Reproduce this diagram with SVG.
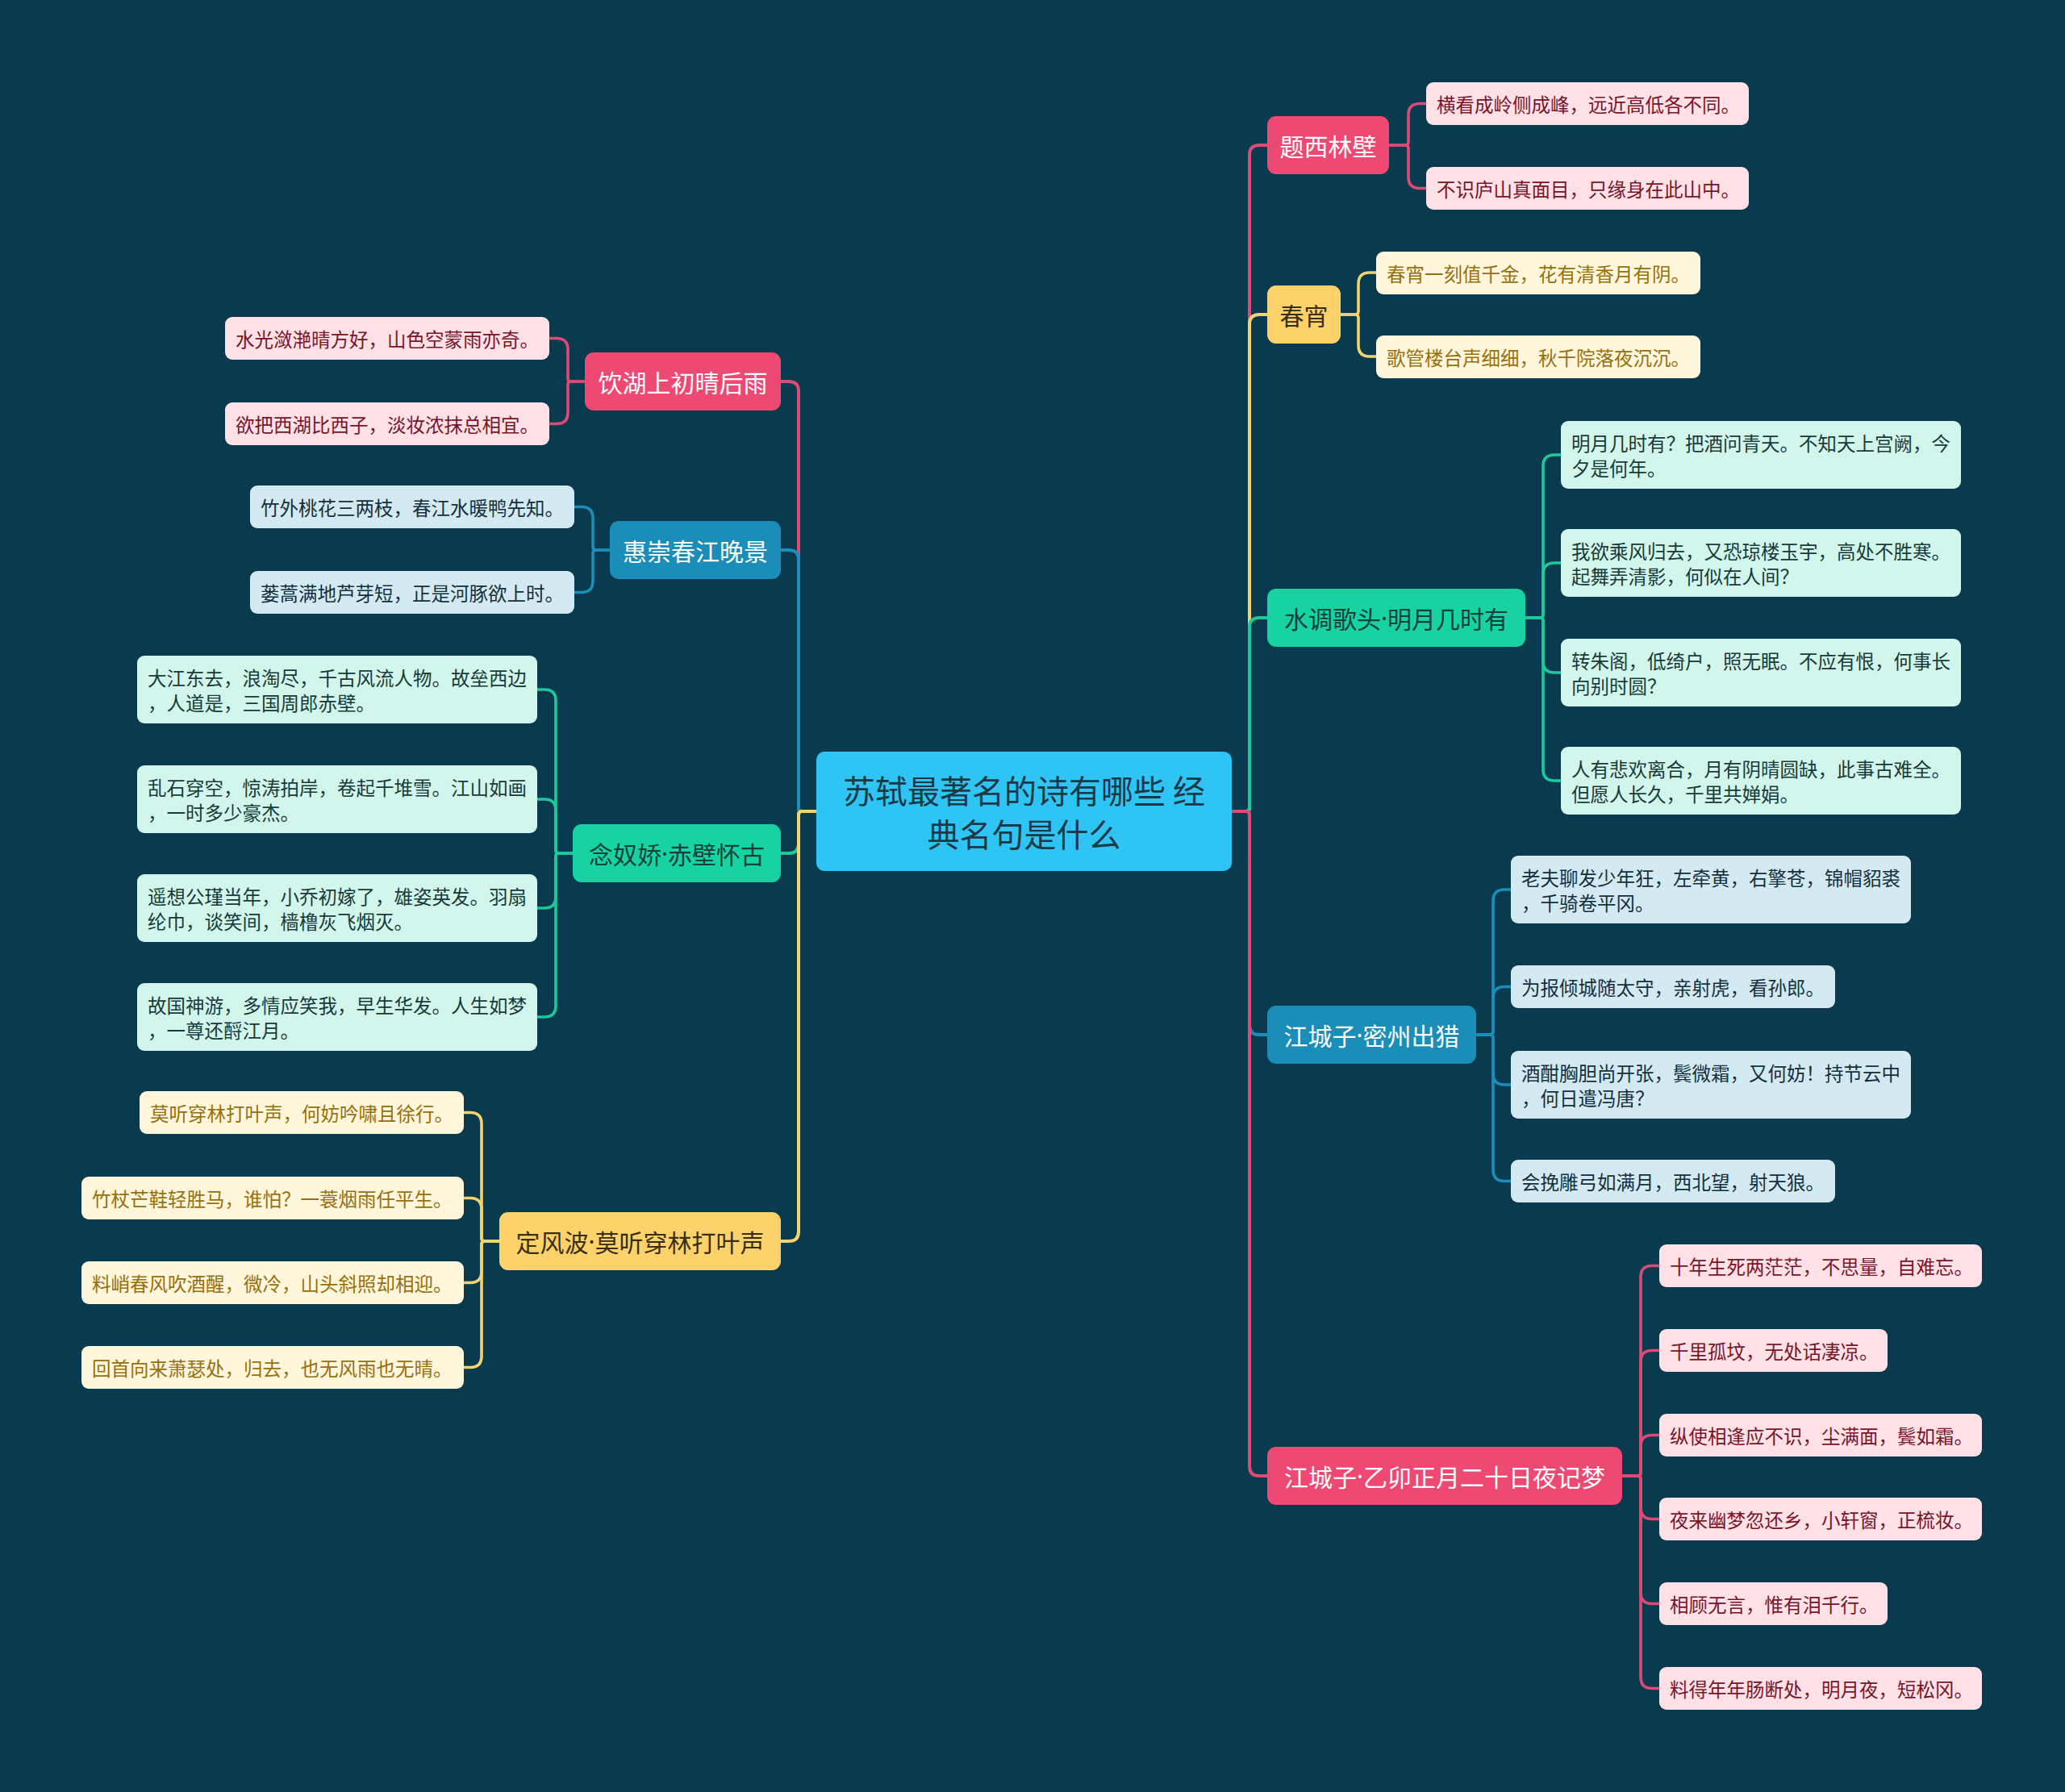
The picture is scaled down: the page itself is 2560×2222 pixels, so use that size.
<svg xmlns="http://www.w3.org/2000/svg" width="2560" height="2222" viewBox="0 0 2560 2222">
<style>
text{font-family:"Noto Sans CJK SC","Noto Sans",sans-serif;dominant-baseline:central}
.dot{font-family:"Noto Sans","Liberation Sans",sans-serif}
.conn path{fill:none;stroke-linejoin:round;stroke-linecap:butt}
.m{stroke-width:4}
.s{stroke-width:3.6}
.cp{stroke:#DC4B76}.cy{stroke:#F3D36E}.cg{stroke:#1DC99C}.cb{stroke:#1B8DB8}
.root rect{fill:#2EC4F4}
.root text{font-size:40px;fill:#1C3948;text-anchor:middle}
.br text{font-size:30px;text-anchor:middle}
.bp rect{fill:#EE4973}.bp text{fill:#FFFFFF}
.by rect{fill:#FDD26A}.by text{fill:#3A2E12}
.bg rect{fill:#17D3A2}.bg text{fill:#15403A}
.bb rect{fill:#1A8DB8}.bb text{fill:#FFFFFF}
.lf text{font-size:23.5px;text-anchor:start}
.lp rect{fill:#FDE1E7}.lp text{fill:#7A1428}
.ly rect{fill:#FFF6DC}.ly text{fill:#97700C}
.lg rect{fill:#D3F6EC}.lg text{fill:#173A3A}
.lb rect{fill:#D3EAF2}.lb text{fill:#13303F}
</style>
<rect x="0" y="0" width="2560" height="2222" fill="#0A3A4D"/>

<g id="connectors" class="conn">
  <!-- left main -->
  <path class="m cp" d="M1012 1006 H994 Q990 1006 990 1002 V485 Q990 473 978 473 H968"/>
  <path class="m cb" d="M1012 1006 H994 Q990 1006 990 1002 V694 Q990 682 978 682 H968"/>
  <path class="m cg" d="M1012 1006 H994 Q990 1006 990 1010 V1046 Q990 1058 978 1058 H968"/>
  <path class="m cy" d="M1012 1006 H994 Q990 1006 990 1010 V1527 Q990 1539 978 1539 H968"/>
  <!-- right main -->
  <path class="m cp" d="M1527 1006 H1545 Q1549 1006 1549 1002 V192 Q1549 180 1561 180 H1571"/>
  <path class="m cy" d="M1527 1006 H1545 Q1549 1006 1549 1002 V402 Q1549 390 1561 390 H1571"/>
  <path class="m cg" d="M1527 1006 H1545 Q1549 1006 1549 1002 V778 Q1549 766 1561 766 H1571"/>
  <path class="m cb" d="M1527 1006 H1545 Q1549 1006 1549 1010 V1271 Q1549 1283 1561 1283 H1571"/>
  <path class="m cp" d="M1527 1006 H1545 Q1549 1006 1549 1010 V1818 Q1549 1830 1561 1830 H1571"/>
  <!-- 题西林壁 leaves -->
  <path class="s cp" d="M1722 180 H1742 Q1746 180 1746 176 V142.5 Q1746 128.5 1760 128.5 H1768"/>
  <path class="s cp" d="M1722 180 H1742 Q1746 180 1746 184 V219.5 Q1746 233.5 1760 233.5 H1768"/>
  <!-- 春宵 leaves -->
  <path class="s cy" d="M1662 390 H1680 Q1684 390 1684 386 V352 Q1684 338 1698 338 H1706"/>
  <path class="s cy" d="M1662 390 H1680 Q1684 390 1684 394 V428 Q1684 442 1698 442 H1706"/>
  <!-- 水调歌头 leaves -->
  <path class="s cg" d="M1891 766 H1909 Q1913 766 1913 762 V578 Q1913 564 1927 564 H1935"/>
  <path class="s cg" d="M1891 766 H1909 Q1913 766 1913 762 V712 Q1913 698 1927 698 H1935"/>
  <path class="s cg" d="M1891 766 H1909 Q1913 766 1913 770 V820 Q1913 834 1927 834 H1935"/>
  <path class="s cg" d="M1891 766 H1909 Q1913 766 1913 770 V954 Q1913 968 1927 968 H1935"/>
  <!-- 密州出猎 leaves -->
  <path class="s cb" d="M1830 1283 H1847 Q1851 1283 1851 1279 V1117 Q1851 1103 1865 1103 H1873"/>
  <path class="s cb" d="M1830 1283 H1847 Q1851 1283 1851 1279 V1237.5 Q1851 1223.5 1865 1223.5 H1873"/>
  <path class="s cb" d="M1830 1283 H1847 Q1851 1283 1851 1287 V1331 Q1851 1345 1865 1345 H1873"/>
  <path class="s cb" d="M1830 1283 H1847 Q1851 1283 1851 1287 V1450.5 Q1851 1464.5 1865 1464.5 H1873"/>
  <!-- 乙卯 leaves -->
  <path class="s cp" d="M2011 1830 H2030 Q2034 1830 2034 1826 V1583.5 Q2034 1569.5 2048 1569.5 H2057"/>
  <path class="s cp" d="M2011 1830 H2030 Q2034 1830 2034 1826 V1688.5 Q2034 1674.5 2048 1674.5 H2057"/>
  <path class="s cp" d="M2011 1830 H2030 Q2034 1830 2034 1826 V1793.5 Q2034 1779.5 2048 1779.5 H2057"/>
  <path class="s cp" d="M2011 1830 H2030 Q2034 1830 2034 1834 V1869.5 Q2034 1883.5 2048 1883.5 H2057"/>
  <path class="s cp" d="M2011 1830 H2030 Q2034 1830 2034 1834 V1974.5 Q2034 1988.5 2048 1988.5 H2057"/>
  <path class="s cp" d="M2011 1830 H2030 Q2034 1830 2034 1834 V2079.5 Q2034 2093.5 2048 2093.5 H2057"/>
  <!-- 饮湖上 leaves -->
  <path class="s cp" d="M725 473 H708 Q704 473 704 469 V433.5 Q704 419.5 690 419.5 H681"/>
  <path class="s cp" d="M725 473 H708 Q704 473 704 477 V511.5 Q704 525.5 690 525.5 H681"/>
  <!-- 惠崇 leaves -->
  <path class="s cb" d="M756 682 H739 Q735 682 735 678 V642.5 Q735 628.5 721 628.5 H712"/>
  <path class="s cb" d="M756 682 H739 Q735 682 735 686 V720.5 Q735 734.5 721 734.5 H712"/>
  <!-- 念奴娇 leaves -->
  <path class="s cg" d="M710 1058 H693 Q689 1058 689 1054 V869 Q689 855 675 855 H666"/>
  <path class="s cg" d="M710 1058 H693 Q689 1058 689 1054 V1005 Q689 991 675 991 H666"/>
  <path class="s cg" d="M710 1058 H693 Q689 1058 689 1062 V1112 Q689 1126 675 1126 H666"/>
  <path class="s cg" d="M710 1058 H693 Q689 1058 689 1062 V1247 Q689 1261 675 1261 H666"/>
  <!-- 定风波 leaves -->
  <path class="s cy" d="M619 1539 H601 Q597 1539 597 1535 V1393.5 Q597 1379.5 583 1379.5 H575"/>
  <path class="s cy" d="M619 1539 H601 Q597 1539 597 1535 V1499.5 Q597 1485.5 583 1485.5 H575"/>
  <path class="s cy" d="M619 1539 H601 Q597 1539 597 1543 V1576.5 Q597 1590.5 583 1590.5 H575"/>
  <path class="s cy" d="M619 1539 H601 Q597 1539 597 1543 V1681.5 Q597 1695.5 583 1695.5 H575"/>
</g>

<g id="root" class="root">
  <rect x="1012" y="932" width="515" height="148" rx="10"/>
  <text x="1269.5" y="979">苏轼最著名的诗有哪些 经</text>
  <text x="1269.5" y="1033">典名句是什么</text>
</g>

<!-- right branches -->
<g id="b1" class="br bp"><rect x="1571" y="144" width="151" height="72" rx="11"/><text x="1646.5" y="180">题西林壁</text></g>
<g id="b2" class="br by"><rect x="1571" y="354" width="91" height="72" rx="11"/><text x="1616.5" y="390">春宵</text></g>
<g id="b3" class="br bg"><rect x="1571" y="730" width="320" height="72" rx="11"/><text x="1731" y="766">水调歌头<tspan class="dot">·</tspan>明月几时有</text></g>
<g id="b4" class="br bb"><rect x="1571" y="1247" width="259" height="72" rx="11"/><text x="1700.5" y="1283">江城子<tspan class="dot">·</tspan>密州出猎</text></g>
<g id="b5" class="br bp"><rect x="1571" y="1794" width="440" height="72" rx="11"/><text x="1791" y="1830">江城子<tspan class="dot">·</tspan>乙卯正月二十日夜记梦</text></g>

<!-- left branches -->
<g id="l1" class="br bp"><rect x="725" y="437" width="243" height="72" rx="11"/><text x="846.5" y="473">饮湖上初晴后雨</text></g>
<g id="l2" class="br bb"><rect x="756" y="646" width="212" height="72" rx="11"/><text x="862" y="682">惠崇春江晚景</text></g>
<g id="l3" class="br bg"><rect x="710" y="1022" width="258" height="72" rx="11"/><text x="839" y="1058">念奴娇<tspan class="dot">·</tspan>赤壁怀古</text></g>
<g id="l4" class="br by"><rect x="619" y="1503" width="349" height="72" rx="11"/><text x="793.5" y="1539">定风波<tspan class="dot">·</tspan>莫听穿林打叶声</text></g>

<!-- leaves: 题西林壁 -->
<g id="b1-1" class="lf lp"><rect x="1768" y="102" width="400" height="53" rx="9"/><text x="1781" y="128.5">横看成岭侧成峰，远近高低各不同。</text></g>
<g id="b1-2" class="lf lp"><rect x="1768" y="207" width="400" height="53" rx="9"/><text x="1781" y="233.5">不识庐山真面目，只缘身在此山中。</text></g>
<!-- 春宵 -->
<g id="b2-1" class="lf ly"><rect x="1706" y="312" width="402" height="53" rx="9"/><text x="1719" y="338.5">春宵一刻值千金，花有清香月有阴。</text></g>
<g id="b2-2" class="lf ly"><rect x="1706" y="416" width="402" height="53" rx="9"/><text x="1719" y="442.5">歌管楼台声细细，秋千院落夜沉沉。</text></g>
<!-- 水调歌头 -->
<g id="b3-1" class="lf lg"><rect x="1935" y="522" width="496" height="84" rx="9"/><text x="1948" y="548.5">明月几时有？把酒问青天。不知天上宫阙，今</text><text x="1948" y="579.5">夕是何年。</text></g>
<g id="b3-2" class="lf lg"><rect x="1935" y="656" width="496" height="84" rx="9"/><text x="1948" y="682.5">我欲乘风归去，又恐琼楼玉宇，高处不胜寒。</text><text x="1948" y="713.5">起舞弄清影，何似在人间？</text></g>
<g id="b3-3" class="lf lg"><rect x="1935" y="792" width="496" height="84" rx="9"/><text x="1948" y="818.5">转朱阁，低绮户，照无眠。不应有恨，何事长</text><text x="1948" y="849.5">向别时圆？</text></g>
<g id="b3-4" class="lf lg"><rect x="1935" y="926" width="496" height="84" rx="9"/><text x="1948" y="952.5">人有悲欢离合，月有阴晴圆缺，此事古难全。</text><text x="1948" y="983.5">但愿人长久，千里共婵娟。</text></g>
<!-- 密州出猎 -->
<g id="b4-1" class="lf lb"><rect x="1873" y="1061" width="496" height="84" rx="9"/><text x="1886" y="1087.5">老夫聊发少年狂，左牵黄，右擎苍，锦帽貂裘</text><text x="1886" y="1118.5">，千骑卷平冈。</text></g>
<g id="b4-2" class="lf lb"><rect x="1873" y="1197" width="402" height="53" rx="9"/><text x="1886" y="1223.5">为报倾城随太守，亲射虎，看孙郎。</text></g>
<g id="b4-3" class="lf lb"><rect x="1873" y="1303" width="496" height="84" rx="9"/><text x="1886" y="1329.5">酒酣胸胆尚开张，鬓微霜，又何妨！持节云中</text><text x="1886" y="1360.5">，何日遣冯唐？</text></g>
<g id="b4-4" class="lf lb"><rect x="1873" y="1438" width="402" height="53" rx="9"/><text x="1886" y="1464.5">会挽雕弓如满月，西北望，射天狼。</text></g>
<!-- 乙卯 -->
<g id="b5-1" class="lf lp"><rect x="2057" y="1543" width="400" height="53" rx="9"/><text x="2070" y="1569.5">十年生死两茫茫，不思量，自难忘。</text></g>
<g id="b5-2" class="lf lp"><rect x="2057" y="1648" width="283" height="53" rx="9"/><text x="2070" y="1674.5">千里孤坟，无处话凄凉。</text></g>
<g id="b5-3" class="lf lp"><rect x="2057" y="1753" width="400" height="53" rx="9"/><text x="2070" y="1779.5">纵使相逢应不识，尘满面，鬓如霜。</text></g>
<g id="b5-4" class="lf lp"><rect x="2057" y="1857" width="400" height="53" rx="9"/><text x="2070" y="1883.5">夜来幽梦忽还乡，小轩窗，正梳妆。</text></g>
<g id="b5-5" class="lf lp"><rect x="2057" y="1962" width="283" height="53" rx="9"/><text x="2070" y="1988.5">相顾无言，惟有泪千行。</text></g>
<g id="b5-6" class="lf lp"><rect x="2057" y="2067" width="400" height="53" rx="9"/><text x="2070" y="2093.5">料得年年肠断处，明月夜，短松冈。</text></g>
<!-- 饮湖上 -->
<g id="l1-1" class="lf lp"><rect x="279" y="393" width="402" height="53" rx="9"/><text x="292" y="419.5">水光潋滟晴方好，山色空蒙雨亦奇。</text></g>
<g id="l1-2" class="lf lp"><rect x="279" y="499" width="402" height="53" rx="9"/><text x="292" y="525.5">欲把西湖比西子，淡妆浓抹总相宜。</text></g>
<!-- 惠崇 -->
<g id="l2-1" class="lf lb"><rect x="310" y="602" width="402" height="53" rx="9"/><text x="323" y="628.5">竹外桃花三两枝，春江水暖鸭先知。</text></g>
<g id="l2-2" class="lf lb"><rect x="310" y="708" width="402" height="53" rx="9"/><text x="323" y="734.5">蒌蒿满地芦芽短，正是河豚欲上时。</text></g>
<!-- 念奴娇 -->
<g id="l3-1" class="lf lg"><rect x="170" y="813" width="496" height="84" rx="9"/><text x="183" y="839.5">大江东去，浪淘尽，千古风流人物。故垒西边</text><text x="183" y="870.5">，人道是，三国周郎赤壁。</text></g>
<g id="l3-2" class="lf lg"><rect x="170" y="949" width="496" height="84" rx="9"/><text x="183" y="975.5">乱石穿空，惊涛拍岸，卷起千堆雪。江山如画</text><text x="183" y="1006.5">，一时多少豪杰。</text></g>
<g id="l3-3" class="lf lg"><rect x="170" y="1084" width="496" height="84" rx="9"/><text x="183" y="1110.5">遥想公瑾当年，小乔初嫁了，雄姿英发。羽扇</text><text x="183" y="1141.5">纶巾，谈笑间，樯橹灰飞烟灭。</text></g>
<g id="l3-4" class="lf lg"><rect x="170" y="1219" width="496" height="84" rx="9"/><text x="183" y="1245.5">故国神游，多情应笑我，早生华发。人生如梦</text><text x="183" y="1276.5">，一尊还酹江月。</text></g>
<!-- 定风波 -->
<g id="l4-1" class="lf ly"><rect x="173" y="1353" width="402" height="53" rx="9"/><text x="186" y="1379.5">莫听穿林打叶声，何妨吟啸且徐行。</text></g>
<g id="l4-2" class="lf ly"><rect x="101" y="1459" width="474" height="53" rx="9"/><text x="114" y="1485.5">竹杖芒鞋轻胜马，谁怕？一蓑烟雨任平生。</text></g>
<g id="l4-3" class="lf ly"><rect x="101" y="1564" width="474" height="53" rx="9"/><text x="114" y="1590.5">料峭春风吹酒醒，微冷，山头斜照却相迎。</text></g>
<g id="l4-4" class="lf ly"><rect x="101" y="1669" width="474" height="53" rx="9"/><text x="114" y="1695.5">回首向来萧瑟处，归去，也无风雨也无晴。</text></g>
</svg>
